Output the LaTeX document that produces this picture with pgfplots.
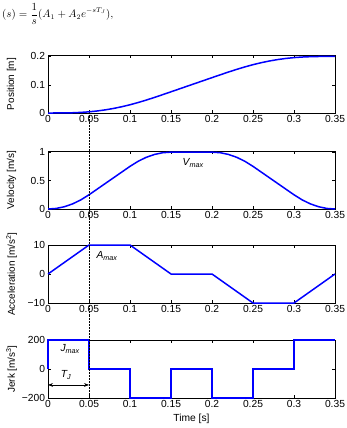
\documentclass[border=0pt]{standalone}
\usepackage{pgfplots}
\pgfplotsset{compat=1.18}
\usepackage{fontspec}
\setmainfont{Liberation Sans}
\usetikzlibrary{arrows.meta}

% S-curve motion profile: jerk-limited move of 0.2 m in 0.35 s
\pgfplotstableread{
t      p          v     a     j
0.00   0.0000000  0.00  0     200
0.01   0.0000333  0.01  2     200
0.02   0.0002667  0.04  4     200
0.03   0.0009000  0.09  6     200
0.04   0.0021333  0.16  8     200
0.05   0.0041667  0.25  10    200
0.06   0.0071667  0.35  10    0
0.07   0.0111667  0.45  10    0
0.08   0.0161667  0.55  10    0
0.09   0.0221667  0.65  10    0
0.10   0.0291667  0.75  10    0
0.11   0.0371333  0.84  8     -200
0.12   0.0458000  0.91  6     -200
0.13   0.0552667  0.96  4     -200
0.14   0.0650333  0.99  2     -200
0.15   0.0750000  1.00  0     -200
0.16   0.0850000  1.00  0     0
0.17   0.0950000  1.00  0     0
0.18   0.1050000  1.00  0     0
0.19   0.1150000  1.00  0     0
0.20   0.1250000  1.00  0     0
0.21   0.1349667  0.99  -2    -200
0.22   0.1447333  0.96  -4    -200
0.23   0.1541000  0.91  -6    -200
0.24   0.1628667  0.84  -8    -200
0.25   0.1708333  0.75  -10   -200
0.26   0.1778333  0.65  -10   0
0.27   0.1838333  0.55  -10   0
0.28   0.1888333  0.45  -10   0
0.29   0.1928333  0.35  -10   0
0.30   0.1958333  0.25  -10   0
0.31   0.1978667  0.16  -8    200
0.32   0.1991000  0.09  -6    200
0.33   0.1997333  0.04  -4    200
0.34   0.1999667  0.01  -2    200
0.35   0.2000000  0.00  0     200
}\profile

% jerk as a piecewise-constant signal
\pgfplotstableread{
t     j
0.00  0
0.00  200
0.05  200
0.05  0
0.10  0
0.10  -200
0.15  -200
0.15  0
0.20  0
0.20  -200
0.25  -200
0.25  0
0.30  0
0.30  200
0.35  200
}\jerk

\pgfplotsset{
  motion/.style={
    width=287bp, height=58bp, scale only axis,
    xmin=0, xmax=0.35,
    xtick={0,0.05,0.1,0.15,0.2,0.25,0.3,0.35},
    xticklabels={0,0.05,0.1,0.15,0.2,0.25,0.3,0.35},
    tick align=inside,
    major tick length=3bp,
    tick style={black, line width=0.4bp},
    axis line style={line width=0.5bp},
    ticklabel style={font=\fontsize{10.3}{12}\selectfont},
    label style={font=\fontsize{10.3}{12}\selectfont},
    xticklabel style={yshift=1.5bp},
    yticklabel style={xshift=0.5bp},
    every axis y label/.style={at={(axis description cs:-0.127,0.5)}, rotate=90, anchor=center},
    no markers,
    every axis plot/.append style={color={rgb,255:red,10;green,10;blue,230}, line width=1.5bp},
  },
}
\tikzset{note/.style={font=\fontsize{10.3}{12}\selectfont\itshape}}

\begin{document}
\begin{tikzpicture}[x=1bp,y=1bp]
\path[use as bounding box] (0,0) rectangle (347,-428);

\node[anchor=west, inner sep=0pt, font=\fontsize{10.5}{12}\selectfont] at (2,-14)
  {$\displaystyle (s)=\frac{1}{s}(A_1+A_2e^{-sT_J}),$};

\begin{axis}[motion, at={(48bp,-113bp)}, anchor=south west,
  ymin=0, ymax=0.205, ytick={0,0.1,0.2}, yticklabels={0,0.1,0.2},
  ylabel={Position [m]}]
  \addplot table[x=t, y=p] {\profile};
  \coordinate (top) at (axis cs:0.05,0);
\end{axis}

\begin{axis}[motion, at={(48bp,-209bp)}, anchor=south west,
  ymin=0, ymax=1.02, ytick={0,0.5,1}, yticklabels={0,0.5,1},
  ylabel={Velocity [m/s]}]
  \addplot table[x=t, y=v] {\profile};
  \node[note] at (axis cs:0.177,0.81) {V\textsubscript{max}};
\end{axis}

\begin{axis}[motion, at={(48bp,-303bp)}, anchor=south west, clip=false,
  ymin=-10, ymax=10, ytick={-10,0,10}, yticklabels={−10,0,10},
  ylabel={Acceleration [m/s\textsuperscript{2}]}]
  \addplot table[x=t, y=a] {\profile};
  \node[note] at (axis cs:0.072,6.2) {A\textsubscript{max}};
\end{axis}

\begin{axis}[motion, at={(48bp,-398bp)}, anchor=south west, clip=false,
  ymin=-200, ymax=200, ytick={-200,0,200}, yticklabels={−200,0,200},
  ylabel={Jerk [m/s\textsuperscript{3}]}, xlabel={Time [s]}]
  \addplot table[x=t, y=j] {\jerk};
  \node[note] at (axis cs:0.027,138) {J\textsubscript{max}};
  \draw[{Stealth[length=5bp]}-{Stealth[length=5bp]}, line width=0.6bp]
    (axis cs:0,-110) -- (axis cs:0.05,-110);
  \node[note] at (axis cs:0.022,-41) {T\textsubscript{J}};
  \coordinate (bottom) at (axis cs:0.05,-200);
\end{axis}

\draw[densely dotted, line width=0.5bp] (top) -- (bottom);
\end{tikzpicture}
\end{document}
